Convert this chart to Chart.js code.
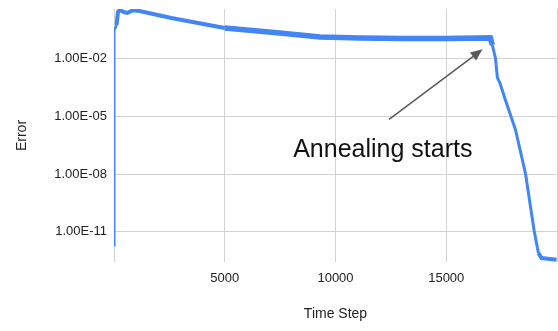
<!DOCTYPE html>
<html>
<head>
<meta charset="utf-8">
<script src="https://cdn.jsdelivr.net/npm/chart.js@4"></script>
<style>
html,body{margin:0;padding:0;background:#fff;}
#wrap{width:558px;height:331px;}
</style>
</head>
<body>
<div id="wrap"><canvas id="c" width="558" height="331"></canvas></div>
<script>
// ---- data ----
const timeSteps = [0, 10, 70, 115, 180, 250, 475, 610, 840, 1150, 2590, 5000, 7490, 9300, 11110, 13000, 15000, 16990, 17080, 17220, 17310, 17420, 17670, 17930, 18130, 18575, 18970, 19160, 19300, 19980];
const errorValues = [2.0e-12, 0.30, 0.39, 0.55, 2.6, 3.3, 2.5, 2.3, 3.2, 2.9, 1.27, 0.385, 0.21, 0.13, 0.117, 0.11, 0.11, 0.117, 0.05, 0.0107, 9.8e-4, 5.4e-4, 6.9e-5, 9.1e-6, 1.9e-6, 1.1e-8, 1.1e-11, 7.9e-13, 4.3e-13, 3.5e-13];
const xTickValues = [0, 5000, 10000, 15000, 20000];
const xTickLabels = ['', '5000', '10000', '15000', ''];
const yTickValues = [1e-2, 1e-5, 1e-8, 1e-11];
const yTickLabels = ['1.00E-02', '1.00E-05', '1.00E-08', '1.00E-11'];
const xAxisTitle = 'Time Step';
const yAxisTitle = 'Error';
const annotationText = 'Annealing starts';
const annotationTextAnchor = [8090, 8.1e-8];     // (time step, error) of text start / baseline
const annotationArrowFrom = [12420, 6.8e-6];
const annotationArrowTo = [16640, 0.03];

const FONT = "'Liberation Sans', Arial, sans-serif";
const points = timeSteps.map((t, i) => ({x: t, y: errorValues[i]}));

const annotationPlugin = {
  id: 'annot',
  afterDatasetsDraw(chart) {
    const {ctx, scales: {x, y}} = chart;
    const x1 = x.getPixelForValue(annotationArrowFrom[0]);
    const y1 = y.getPixelForValue(annotationArrowFrom[1]);
    const x2 = x.getPixelForValue(annotationArrowTo[0]);
    const y2 = y.getPixelForValue(annotationArrowTo[1]);
    const ang = Math.atan2(y2 - y1, x2 - x1);
    const headLen = 12, headW = 5;
    ctx.save();
    ctx.strokeStyle = '#595959';
    ctx.fillStyle = '#595959';
    ctx.lineWidth = 1.5;
    ctx.beginPath();
    ctx.moveTo(x1, y1);
    ctx.lineTo(x2 - Math.cos(ang) * headLen * 0.8, y2 - Math.sin(ang) * headLen * 0.8);
    ctx.stroke();
    ctx.beginPath();
    ctx.moveTo(x2, y2);
    const bx = x2 - Math.cos(ang) * headLen, by = y2 - Math.sin(ang) * headLen;
    ctx.lineTo(bx + Math.sin(ang) * headW, by - Math.cos(ang) * headW);
    ctx.lineTo(bx - Math.sin(ang) * headW, by + Math.cos(ang) * headW);
    ctx.closePath();
    ctx.fill();
    ctx.fillStyle = '#111';
    ctx.font = '25px ' + FONT;
    ctx.textBaseline = 'alphabetic';
    ctx.textAlign = 'left';
    ctx.fillText(annotationText, x.getPixelForValue(annotationTextAnchor[0]), y.getPixelForValue(annotationTextAnchor[1]));
    ctx.restore();
  }
};

function noPad(s) { s.paddingTop = 0; s.paddingBottom = 0; s.paddingLeft = 0; s.paddingRight = 0; }

new Chart(document.getElementById('c'), {
  type: 'line',
  data: {
    datasets: [{
      data: points,
      borderColor: '#4285F4',
      backgroundColor: '#4285F4',
      borderWidth: 3,
      pointRadius: 0,
      tension: 0,
      fill: false,
      segment: {
        borderWidth: ctx => {
          const t = ctx.p0.parsed.x;
          if (t < 100) return 2.5;
          if (t < 5000) return 4;
          if (t < 17000) return 5.5;
          if (t < 19100) return 3;
          return 4;
        }
      }
    }]
  },
  options: {
    responsive: false,
    devicePixelRatio: 1,
    animation: false,
    layout: {padding: {top: 9, right: 1, left: 0, bottom: 0}},
    plugins: {legend: {display: false}, tooltip: {enabled: false}},
    scales: {
      x: {
        type: 'linear',
        min: 0,
        max: 20000,
        afterBuildTicks: s => { s.ticks = xTickValues.map(v => ({value: v})); },
        afterFit: s => { s.height = 69; noPad(s); },
        border: {display: false},
        grid: {color: '#d3d3d3', lineWidth: 1, drawTicks: false},
        ticks: {
          padding: 9,
          color: '#222',
          font: {family: FONT, size: 13},
          maxRotation: 0,
          autoSkip: false,
          callback: (v) => { const i = xTickValues.indexOf(v); return i >= 0 ? xTickLabels[i] : ''; }
        },
        title: {display: true, text: xAxisTitle, color: '#222', font: {family: FONT, size: 14}, padding: {top: 0, bottom: 8}}
      },
      y: {
        type: 'logarithmic',
        min: 2.7e-13,
        max: 3.7,
        afterBuildTicks: s => { s.ticks = yTickValues.map(v => ({value: v})); },
        afterFit: s => { s.width = 114; noPad(s); },
        border: {display: false},
        grid: {color: '#d3d3d3', lineWidth: 1, drawTicks: false},
        ticks: {
          padding: 7,
          color: '#222',
          font: {family: FONT, size: 13},
          autoSkip: false,
          callback: (v) => { const i = yTickValues.findIndex(t => Math.abs(Math.log10(t) - Math.log10(v)) < 1e-6); return i >= 0 ? yTickLabels[i] : ''; }
        },
        title: {display: true, text: yAxisTitle, color: '#222', font: {family: FONT, size: 14}, padding: {top: 14, bottom: 0}}
      }
    }
  },
  plugins: [annotationPlugin]
});
</script>
</body>
</html>
